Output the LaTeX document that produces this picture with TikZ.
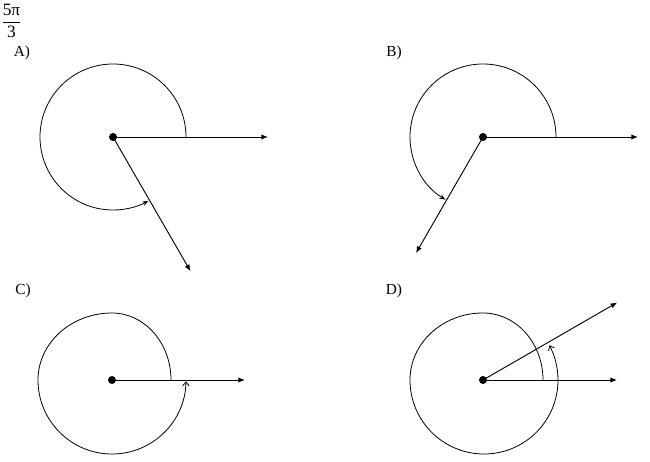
\documentclass[tikz,border=0pt]{standalone}
\usepackage{amsmath}
\usepackage{fontspec}
\setmainfont{Liberation Serif}
\usetikzlibrary{arrows.meta}

\begin{document}
\begin{tikzpicture}[
		x=0.75pt, y=0.75pt,
		ray/.style={line width=0.7pt, -{Latex[length=5pt, width=4pt]}},
		turn/.style={line width=0.6pt, -{Stealth[length=4.5pt, width=3.5pt]}},
		loop/.style={line width=0.6pt, -{Straight Barb[length=3pt, width=5pt]}},
		choice/.style={font=\fontsize{11.5}{14}\selectfont, inner sep=0pt},
	]
		\useasboundingbox (0,0) rectangle (650,-461);
		\node[inner sep=0pt, font=\fontsize{13}{15}\selectfont] (angle) at (11.5,-21) {$\dfrac{\text{5π}}{\text{3}}$};
		
		\coordinate (oa) at (113,-137);
		\coordinate (ob) at (483,-137);
		\coordinate (oc) at (112,-380);
		\coordinate (od) at (483,-380);
		
		\node[choice] (la) at (22,-53) {A)};
		\node[choice] (lb) at (394,-53) {B)};
		\node[choice] (lc) at (23,-291) {C)};
		\node[choice] (ld) at (394,-291) {D)};
		
		% A
		\draw[ray] (oa) -- ++(155,0) coordinate (ia);
		\draw[ray] (oa) -- ++(-60:155) coordinate (ta);
		\draw[turn] ([shift={(0:73)}]oa) arc[start angle=0, end angle=299, radius=73];
		\fill (oa) circle[radius=4];
		
		% B
		\draw[ray] (ob) -- ++(155,0) coordinate (ib);
		\draw[ray] (ob) -- ++(240:134) coordinate (tb);
		\draw[turn] ([shift={(0:73)}]ob) arc[start angle=0, end angle=239, radius=73];
		\fill (ob) circle[radius=4];
		
		% C
		\draw[ray] (oc) -- ++(133,0) coordinate (ic);
		\draw[loop] ([shift={(59,0)}]oc) arc[start angle=0, end angle=90, x radius=59, y radius=67]
			arc[start angle=90, end angle=180, x radius=74, y radius=67]
			arc[start angle=180, end angle=359, radius=74];
		\fill (oc) circle[radius=4];
		
		% D
		\draw[ray] (od) -- ++(134,0) coordinate (id);
		\draw[ray] (od) -- ++(30:155) coordinate (td);
		\draw[loop] ([shift={(60,0)}]od) arc[start angle=0, end angle=90, x radius=60, y radius=67]
			arc[start angle=90, end angle=180, x radius=73, y radius=67]
			arc[start angle=180, end angle=388, radius=74];
		\fill (od) circle[radius=4];
	\end{tikzpicture}
\end{document}
